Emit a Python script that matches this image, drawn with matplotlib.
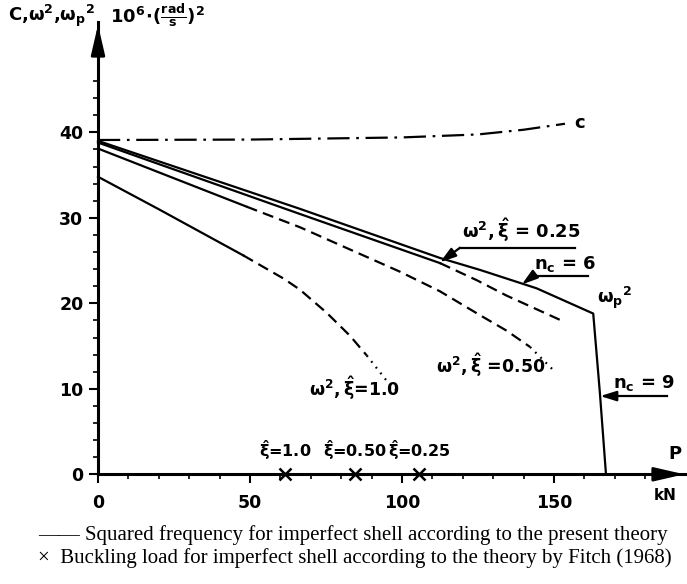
import numpy as np
import matplotlib.pyplot as plt

plt.rcParams['font.family'] = ['DejaVu Sans']
plt.rcParams['font.weight'] = 'bold'
plt.rcParams['mathtext.fontset'] = 'dejavusans'
plt.rcParams['mathtext.default'] = 'bf'

# curve data, P in kN, values in 10^6 (rad/s)^2
P_c = [0, 50, 100, 125, 140, 153.6]
C = [39.1, 39.15, 39.4, 39.75, 40.3, 41.0]

P_wp = [0, 66, 112.5, 125.7, 144.3, 162.9, 165.1, 167.1]
wp = [39.0, 31.1, 25.3, 23.9, 21.75, 18.8, 9.5, 0.0]

P_25 = [0, 66, 112.5, 124.6, 134.4, 153.6]
w_25 = [38.8, 30.5, 24.7, 22.7, 20.9, 17.8]

P_50 = [0, 48.9, 66.4, 99.3, 112.5, 125.7, 134.4, 142.1, 150.3]
w_50 = [38.1, 31.3, 28.9, 23.7, 21.4, 18.6, 16.8, 14.9, 12.0]

P_10 = [0, 20, 47.8, 61, 66.4, 75.2, 82.9, 88.4, 96.6, 99.3]
w_10 = [34.8, 31.0, 25.6, 22.9, 21.6, 18.9, 16.2, 13.9, 10.2, 9.6]

# buckling loads (Fitch 1968)
P_buck = [61.5, 84.6, 105.6]
buck_lbl = ['1.0', '0.50', '0.25']

W, H = 687, 584
fig = plt.figure(figsize=(W / 100, H / 100), dpi=100)
x0, y0 = 98, 474.3
xmax, ymax = (687 - x0) / 3.04, (y0 - 22) / 8.55
ax = fig.add_axes([x0 / W, (H - y0) / H, (W - x0) / W, (y0 - 22) / H])
ax.set_xlim(0, xmax)
ax.set_ylim(0, ymax)
for s in ['top', 'right']:
    ax.spines[s].set_visible(False)
for s in ['left', 'bottom']:
    ax.spines[s].set_linewidth(2.2)

# axis arrows
ax.annotate('', xy=(xmax, 0), xytext=(xmax - 8, 0),
            arrowprops=dict(arrowstyle='-|>,head_length=1.3,head_width=0.3',
                            color='k', lw=2, mutation_scale=14), annotation_clip=False)
ax.annotate('', xy=(0, ymax), xytext=(0, ymax - 3),
            arrowprops=dict(arrowstyle='-|>,head_length=1.3,head_width=0.3',
                            color='k', lw=2, mutation_scale=14), annotation_clip=False)

ax.set_xticks([0, 50, 100, 150])
ax.set_xticks(np.arange(0, 181, 10), minor=True)
ax.set_yticks([0, 10, 20, 30, 40])
ax.set_yticks(np.arange(0, 47, 2), minor=True)
ax.tick_params(which='major', length=6.5, width=1.5, labelsize=12.5)
ax.tick_params(which='minor', length=3.5, width=1.2)
ax.tick_params(axis='x', which='major', pad=8)
ax.tick_params(axis='y', which='major', pad=4)

DASH = (0, (5, 2.8))
DOT = (0, (0.8, 2.5))


def draw(p, w, breaks, styles):
    idx = [0] + [p.index(b) for b in breaks] + [len(p) - 1]
    for a, b, ls in zip(idx[:-1], idx[1:], styles):
        ax.plot(p[a:b + 1], w[a:b + 1], color='k', lw=1.6, linestyle=ls,
                clip_on=False)


ax.plot(P_c, C, color='k', lw=1.6, linestyle=(0, (10, 3, 1.2, 3)))
draw(P_wp, wp, [], ['-'])
draw(P_25, w_25, [112.5], ['-', DASH])
draw(P_50, w_50, [48.9, 142.1], ['-', DASH, DOT])
draw(P_10, w_10, [47.8, 88.4], ['-', DASH, DOT])

ax.plot(P_buck, [0] * 3, 'x', color='k', ms=9, mew=1.8, clip_on=False)
for p, l in zip(P_buck, buck_lbl):
    ax.text(p, 2.8, r'$\hat{\xi}$=' + l, ha='center', va='center', fontsize=11.5)

arr = dict(arrowstyle='-|>,head_length=0.8,head_width=0.25', color='k', lw=1.6,
           mutation_scale=12, shrinkA=0, shrinkB=0)

# labels with leader lines
ax.text(156.5, 41.1, 'c', fontsize=13, va='center')
ax.plot([119.1, 156.9], [26.5, 26.5], color='k', lw=1.6)
ax.annotate('', xy=(112.5, 24.8), xytext=(119.1, 26.5), arrowprops=arr)
ax.text(119.7, 26.9, r'$\omega^2,\hat{\xi}$ = 0.25', fontsize=13, va='bottom')

ax.plot([143.1, 161.2], [23.2, 23.2], color='k', lw=1.6)
ax.annotate('', xy=(139.4, 22.2), xytext=(143.1, 23.2), arrowprops=arr)
ax.text(143.4, 23.4, r'$n_c$ = 6', fontsize=13, va='bottom')

ax.text(164.3, 20.6, r'$\omega_p{}^2$', fontsize=13, va='center')

ax.plot([169.0, 187.2], [9.15, 9.15], color='k', lw=1.6, clip_on=False)
ax.annotate('', xy=(165.2, 9.15), xytext=(169.0, 9.15), arrowprops=arr)
ax.text(169.4, 9.5, r'$n_c$ = 9', fontsize=13, va='bottom')

ax.text(111.3, 12.8, r'$\omega^2,\hat{\xi}$ =0.50', fontsize=12.5, va='center')
ax.text(69.5, 10.1, r'$\omega^2,\hat{\xi}$=1.0', fontsize=12.5, va='center')

ax.text(xmax - 4, 2.4, 'P', fontsize=13, ha='center', va='center')
fig.text(665 / W, 1 - 496 / H, 'kN', fontsize=11, ha='center', va='center')

fig.text(8 / W, 1 - 16 / H, r'C,$\omega^2$,$\omega_p{}^2$', fontsize=13, va='center')
fig.text(110 / W, 1 - 16 / H, r'$10^6\!\cdot\!(\frac{rad}{s})^2$', fontsize=13, va='center')

fig.text(38 / W, 1 - 535 / H,
         '—— Squared frequency for imperfect shell according to the present theory',
         family='Liberation Serif', fontweight='normal', fontsize=15, va='center')
fig.text(38 / W, 1 - 558 / H,
         '×  Buckling load for imperfect shell according to the theory by Fitch (1968)',
         family='Liberation Serif', fontweight='normal', fontsize=15, va='center')

fig.savefig('out.png', dpi=100)
